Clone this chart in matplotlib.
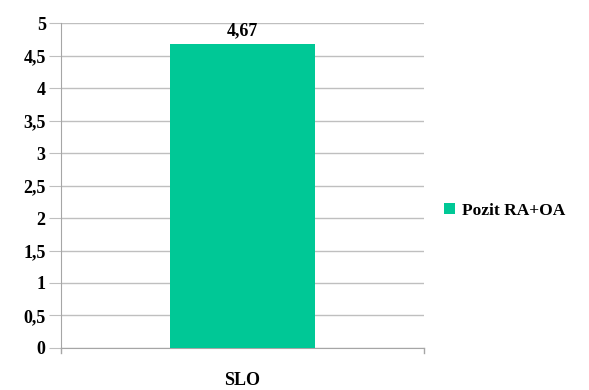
import matplotlib.pyplot as plt
from matplotlib.ticker import MultipleLocator, FuncFormatter

categories = ["SLO"]
values = [4.67]
series_name = "Pozit RA+OA"
bar_color = "#00C896"

plt.rcParams['font.family'] = ['Liberation Serif', 'DejaVu Serif']
plt.rcParams['font.weight'] = 'bold'

fig = plt.figure(figsize=(5.89, 3.90), dpi=100)
ax = fig.add_axes([0.1036, 0.1077, 0.6164, 0.8333])

x = list(range(len(categories)))
bars = ax.bar(x, values, width=0.40, color=bar_color, label=series_name, zorder=3)

ax.set_xlim(-0.5, len(categories) - 0.5)
ax.set_ylim(0, 5)
ax.yaxis.set_major_locator(MultipleLocator(0.5))
ax.yaxis.set_major_formatter(FuncFormatter(lambda v, _: f"{v:g}".replace(".", ",")))
ax.grid(axis='y', color='#BFBFBF', linewidth=1.0, zorder=0)

for side in ('top', 'right'):
    ax.spines[side].set_visible(False)
for side in ('left', 'bottom'):
    ax.spines[side].set_color('#A6A6A6')

ax.tick_params(axis='y', length=9, color='#BFBFBF', labelsize=13, pad=2)
ax.tick_params(axis='x', length=0, labelsize=13, pad=17)
ax.set_xticks(x)
ax.set_xticklabels(categories, family='Liberation Serif', weight='bold')
for lab in ax.get_yticklabels():
    lab.set_family('Liberation Serif')
    lab.set_fontweight('bold')

# category boundary ticks on the x axis
for b in [-0.5, len(categories) - 0.5]:
    ax.plot([b, b], [0, -0.08], color='#A6A6A6', lw=1, clip_on=False)

for rect, v in zip(bars, values):
    ax.text(rect.get_x() + rect.get_width() / 2, v + 0.08, f"{v:.2f}".replace(".", ","),
            ha='center', va='bottom', fontsize=13, fontweight='bold', family='Liberation Serif')

fig.legend(handles=[bars], labels=[series_name], loc='center left',
           bbox_to_anchor=(0.728, 0.46), frameon=False, handlelength=0.6,
           handleheight=0.6, handletextpad=0.4,
           prop={'size': 12.5, 'weight': 'bold', 'family': 'Liberation Serif'})

fig.savefig("out.png", dpi=100)
